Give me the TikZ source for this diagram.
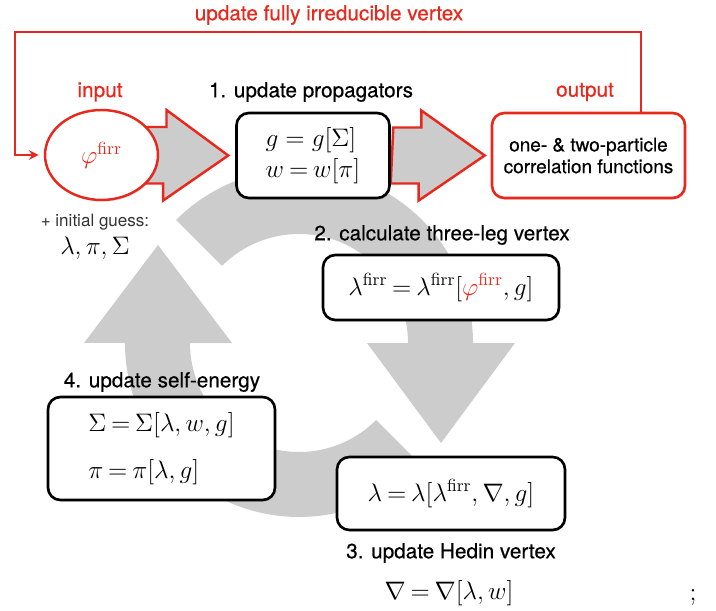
\documentclass[tikz,border=0pt]{standalone}
\usepackage[no-math]{fontspec}
\newfontfamily\helv{TeX Gyre Heros}
\newfontfamily\helvmed[FakeBold=0.4]{TeX Gyre Heros}
\tikzset{>=stealth}
\usetikzlibrary{shapes.geometric}
\usetikzlibrary{shadows}
\usetikzlibrary{backgrounds}
\definecolor{penRed}{RGB}{232,40,28}
\colorlet{ringGray}{black!20}
\newcommand{\eqn}{\mskip-1.5mu=\mskip-1.5mu}
\newcommand{\firr}{^{\mathrm{firr}}}

\begin{document}
\begin{tikzpicture}[x=0.02cm,y=-0.02cm,
  lbl/.style={font=\helvmed\fontsize{11.8}{14}\selectfont},
  mth/.style={font=\fontsize{14.5}{18}\selectfont},
  soft/.style={drop shadow={opacity=0.25,shadow xshift=0.6pt,shadow yshift=-0.9pt}},
  stepbox/.style={draw, line width=1.5pt, rounded corners=7pt, fill=white, mth, align=left, soft},
  blockarrow/.style={draw=penRed, line width=1.4pt, fill=ringGray, line join=miter},
  fb/.style={draw=penRed, line width=1.4pt}]
\useasboundingbox (0,0) rectangle (716,611);

% input and the four steps
\node[draw=penRed, line width=1.4pt, fill=white, ellipse, minimum width=2.26cm, minimum height=1.8cm,
  inner sep=0pt, mth, text=penRed, soft] (in) at (101.5,155) {$\varphi\firr$};
\node[stepbox, minimum width=3.06cm, minimum height=1.7cm] (prop) at (313,155.5)
  {$g = g[\Sigma]$\\$w\eqn w[\pi]$};
\node[stepbox, draw=penRed, align=center, font=\helvmed\fontsize{10.8}{12.4}\selectfont,
  minimum width=3.86cm, minimum height=1.7cm] (out) at (588.5,155.5)
  {one- \& two-particle\\correlation functions};
\node[stepbox, minimum width=4.72cm, minimum height=1.3cm] (vert) at (441,287.5)
  {$\lambda\firr\eqn\lambda\firr[{\color{penRed}\varphi\firr},g]$};
\node[stepbox, minimum width=4.56cm, minimum height=1.46cm] (hedin) at (451,493.5)
  {$\lambda\eqn\lambda[\lambda\firr,\nabla,g]$};
\node[stepbox, minimum width=4.54cm, minimum height=2.06cm] (self) at (161.5,448.5)
  {$\Sigma\eqn\Sigma[\lambda,w,g]$\\[8.7pt]$\pi\eqn\pi[\lambda,g]$};

% labels
\node[lbl, text=penRed] (fbl) at (329,15) {update fully irreducible vertex};
\node[lbl, text=penRed] (inl) at (100,92) {input};
\node[lbl] (propl) at (311,92) {1. update propagators};
\node[lbl, text=penRed] (outl) at (585,92) {output};
\node[lbl] (vertl) at (442,235) {2. calculate three-leg vertex};
\node[lbl] (hedinl) at (451,553) {3. update Hedin vertex};
\node[lbl] (selfl) at (162,382) {4. update self-energy};
\node[font=\helv\fontsize{9.7}{12}\selectfont, text=black!80] (guess) at (95,222) {+ initial guess:};
\node[mth] (guessv) at (95,248) {$\lambda,\pi,\Sigma$};
\node[mth] (nabla) at (449,593) {$\nabla\eqn\nabla[\lambda,w]$};
\node[mth] (semi) at (693,597) {;};

% feedback loop
\coordinate (fbtop) at (641,32);
\coordinate (fbleft) at (15,32);
\draw[fb, ->, shorten >=3pt] (out.north -| fbtop) -- (fbtop) -- (fbleft) |- (in.west);

\begin{scope}[on background layer]
% the cycle
\fill[ringGray] (176,220) arc[start angle=-135,end angle=0,radius=174]
  -- (515,343) -- (441,443) -- (367,343) -- (408,343)
  arc[start angle=0,end angle=-135,radius=109] -- cycle;
\fill[ringGray] (422,466) arc[start angle=45,end angle=180,radius=174]
  -- (84,343) -- (158,245) -- (232,343) -- (190,343)
  arc[start angle=180,end angle=45,radius=109] -- cycle;
% block arrows
\draw[blockarrow] ([yshift=0.56cm]in.center) -- ++(65,0) -- ++(0,-17)
  -- ([xshift=-0.14cm]prop.west) -- ++(-65,45) -- ++(0,-17) -- ++(-65,0) -- cycle;
\draw[blockarrow] ([xshift=0.05cm,yshift=0.56cm]prop.east) -- ++(28,0) -- ++(0,-17)
  -- ([xshift=-0.12cm]out.west) -- ++(-66,45) -- ++(0,-17) -- ++(-28,0) -- cycle;
\end{scope}
\end{tikzpicture}
\end{document}
